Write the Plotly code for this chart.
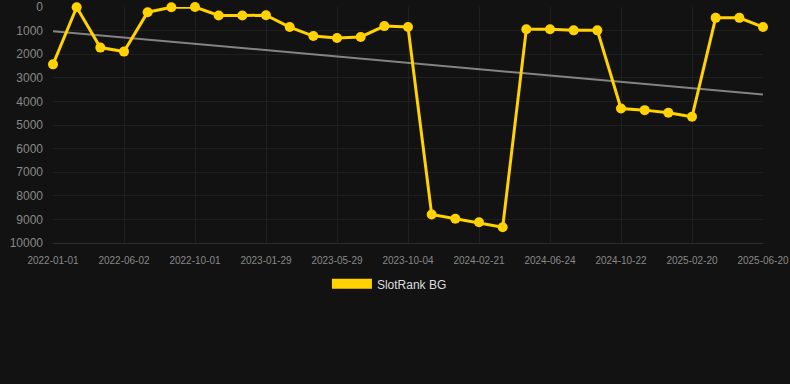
import numpy as np
import plotly.graph_objects as go

dates = [
    "2022-01-01", "2022-02-20", "2022-04-11", "2022-06-02", "2022-07-12", "2022-08-21",
    "2022-10-01", "2022-11-10", "2022-12-20", "2023-01-29", "2023-03-10", "2023-04-19",
    "2023-05-29", "2023-07-10", "2023-08-22", "2023-10-04", "2023-11-19", "2024-01-05",
    "2024-02-21", "2024-04-01", "2024-05-13", "2024-06-24", "2024-08-03", "2024-09-12",
    "2024-10-22", "2024-12-01", "2025-01-10", "2025-02-20", "2025-04-01", "2025-05-11",
    "2025-06-20",
]
ranks = [
    2430, 10, 1720, 1890, 220, 10, 1, 360, 360, 350, 850, 1230, 1310, 1270, 810, 850,
    8790, 8970, 9120, 9330, 940, 940, 990, 990, 4300, 4370, 4480, 4650, 460, 460, 850,
]
tick_labels = dates[::3]
y_ticks = [0, 1000, 2000, 3000, 4000, 5000, 6000, 7000, 8000, 9000, 10000]
y_tick_text = [str(v) for v in y_ticks]
series_name = "SlotRank BG"

YELLOW = "#FFD200"
BG = "#121212"

idx = np.arange(len(ranks))
slope, intercept = np.polyfit(idx, ranks, 1)
trend = slope * idx + intercept

fig = go.Figure()
fig.add_trace(go.Scatter(
    x=dates, y=trend, mode="lines",
    line=dict(color="rgba(160,160,160,0.8)", width=2),
    showlegend=False, hoverinfo="skip",
))
fig.add_trace(go.Scatter(
    x=dates, y=ranks, mode="lines+markers", name=series_name,
    line=dict(color=YELLOW, width=3),
    marker=dict(color=YELLOW, size=10),
    cliponaxis=False, showlegend=False,
))
# legend entry
fig.add_trace(go.Scatter(
    x=[None], y=[None], mode="lines", name=series_name,
    line=dict(color=YELLOW, width=11), showlegend=True,
))

fig.update_layout(
    width=790, height=384,
    paper_bgcolor=BG, plot_bgcolor=BG,
    margin=dict(l=53, r=27, t=7, b=141, autoexpand=False),
    font=dict(family="Liberation Sans, Arial, sans-serif", color="#888888"),
    showlegend=True,
    legend=dict(
        orientation="h", x=0.3858, y=-0.1115, xanchor="left", yanchor="top",
        font=dict(size=12, color="#dddddd"), itemwidth=40,
        bgcolor="rgba(0,0,0,0)",
    ),
    xaxis=dict(
        type="category", range=[0, len(dates) - 1], automargin=False,
        tickmode="array", tickvals=tick_labels, ticktext=tick_labels,
        tickfont=dict(size=10, color="#888888"),
        showgrid=True, gridcolor="#1f1f1f", gridwidth=1,
        showline=True, linecolor="#2c2c2c", linewidth=1,
        ticks="", ticklabelstandoff=8, zeroline=False,
    ),
    yaxis=dict(
        range=[10000, 0], tickmode="array", tickvals=y_ticks, ticktext=y_tick_text,
        automargin=False,
        tickfont=dict(size=12, color="#888888"),
        showgrid=True, gridcolor="#1f1f1f", gridwidth=1,
        showline=False, zeroline=False, ticks="", ticklabelstandoff=9,
    ),
)

fig.write_html(
    "out.html",
    config={"displayModeBar": False},
    post_script="document.body.style.margin='0';document.body.style.background='#121212';",
)
